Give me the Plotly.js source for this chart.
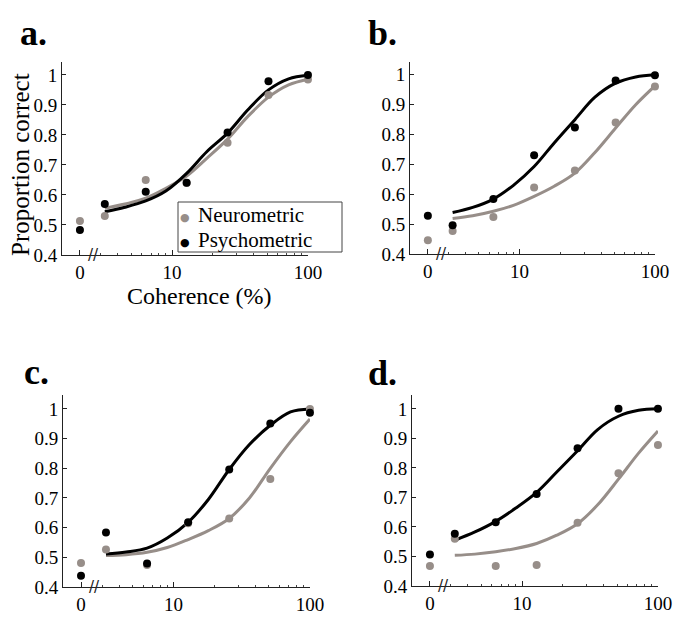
<!DOCTYPE html>
<html>
<head>
<meta charset="utf-8">
<script src="https://cdn.plot.ly/plotly-3.0.1.min.js"></script>
<style>
  html, body { margin: 0; padding: 0; background: #fff; }
  #chart { width: 686px; height: 619px; }
</style>
</head>
<body>
<div id="chart"></div>
<script>
// ---- data ----
const coherence = [0, 3.2, 6.4, 12.8, 25.6, 51.2, 99.9];
const panelLabels = ['a.', 'b.', 'c.', 'd.'];
const neuroA = [0.513, 0.530, 0.650, 0.640, 0.774, 0.933, 0.985];
const psychoA = [0.483, 0.570, 0.611, 0.641, 0.808, 0.979, 1.000];
const neuroB = [0.446, 0.477, 0.524, 0.623, 0.680, 0.840, 0.961];
const psychoB = [0.528, 0.496, 0.584, 0.731, 0.824, 0.981, 0.999];
const neuroC = [0.481, 0.526, 0.474, 0.615, 0.631, 0.764, 1.000];
const psychoC = [0.438, 0.584, 0.479, 0.618, 0.796, 0.951, 0.987];
const neuroD = [0.468, 0.560, 0.468, 0.471, 0.614, 0.782, 0.878];
const psychoD = [0.507, 0.577, 0.616, 0.712, 0.867, 1.000, 1.000];

// fitted curves
const fitCoherence = [3.2, 4.5, 6.4, 9, 12.8, 18, 25.6, 36, 51.2, 72, 99.9];
const neuroFitA = [0.556, 0.570, 0.589, 0.622, 0.663, 0.722, 0.786, 0.861, 0.926, 0.967, 0.986];
const psychoFitA = [0.544, 0.559, 0.580, 0.613, 0.672, 0.744, 0.806, 0.883, 0.950, 0.987, 0.999];
const neuroFitB = [0.519, 0.528, 0.543, 0.563, 0.593, 0.627, 0.671, 0.740, 0.822, 0.900, 0.963];
const psychoFitB = [0.539, 0.556, 0.584, 0.630, 0.693, 0.772, 0.850, 0.925, 0.972, 0.993, 1.000];
const neuroFitC = [0.506, 0.509, 0.517, 0.533, 0.560, 0.590, 0.631, 0.700, 0.800, 0.890, 0.966];
const psychoFitC = [0.511, 0.518, 0.531, 0.565, 0.618, 0.695, 0.796, 0.880, 0.945, 0.990, 1.000];
const neuroFitD = [0.504, 0.508, 0.516, 0.527, 0.544, 0.572, 0.611, 0.675, 0.762, 0.850, 0.925];
const psychoFitD = [0.555, 0.583, 0.619, 0.664, 0.717, 0.786, 0.858, 0.930, 0.975, 0.995, 1.000];

const xTickText = ['0', '10', '100'];
const yTickVals = [0.4, 0.5, 0.6, 0.7, 0.8, 0.9, 1];
const yTickText = ['0.4', '0.5', '0.6', '0.7', '0.8', '0.9', '1'];
const seriesNames = ['Neurometric', 'Psychometric'];
const xTitle = 'Coherence (%)';
const yTitle = 'Proportion correct';

// ---- styling / layout ----
const GRAY = '#978e89';
const BLACK = '#000000';
const SERIF = 'Liberation Serif';
const ZERO_POS = 2.1;      // where the 0% coherence point sits on the log axis
const BREAK_POS = 2.65;    // axis-break mark
const xPlot = coherence.map(c => (c === 0 ? ZERO_POS : c));

const W = 686, H = 619;
const px = v => v / W;
const py = v => 1 - v / H;
const panels = [
  { neuro: neuroA, psycho: psychoA, nFit: neuroFitA, pFit: psychoFitA, x: [62, 308], y: [62, 255], ytop: 1.043, label: [18, 33] },
  { neuro: neuroB, psycho: psychoB, nFit: neuroFitB, pFit: psychoFitB, x: [410, 655], y: [62, 254], ytop: 1.043, label: [366, 33] },
  { neuro: neuroC, psycho: psychoC, nFit: neuroFitC, pFit: psychoFitC, x: [63, 310], y: [395, 587], ytop: 1.047, label: [22, 372] },
  { neuro: neuroD, psycho: psychoD, nFit: neuroFitD, pFit: psychoFitD, x: [412, 658], y: [395, 586], ytop: 1.047, label: [366, 373] }
];

const traces = [];
const layout = {
  width: W, height: H,
  margin: { l: 0, r: 0, t: 0, b: 0 },
  paper_bgcolor: '#fff', plot_bgcolor: '#fff',
  showlegend: false,
  font: { family: SERIF, size: 19, color: '#000' },
  annotations: [], shapes: []
};

panels.forEach((p, i) => {
  const n = i + 1;
  const xa = 'x' + (n === 1 ? '' : n), ya = 'y' + (n === 1 ? '' : n);
  const xk = 'xaxis' + (n === 1 ? '' : n), yk = 'yaxis' + (n === 1 ? '' : n);
  traces.push({ x: fitCoherence, y: p.nFit, xaxis: xa, yaxis: ya, mode: 'lines', line: { color: GRAY, width: 3, shape: 'spline', smoothing: 1 }, hoverinfo: 'skip' });
  traces.push({ x: fitCoherence, y: p.pFit, xaxis: xa, yaxis: ya, mode: 'lines', line: { color: BLACK, width: 3, shape: 'spline', smoothing: 1 }, hoverinfo: 'skip' });
  traces.push({ x: xPlot, y: p.neuro, xaxis: xa, yaxis: ya, mode: 'markers', name: seriesNames[0], marker: { color: GRAY, size: 8 }, cliponaxis: false });
  traces.push({ x: xPlot, y: p.psycho, xaxis: xa, yaxis: ya, mode: 'markers', name: seriesNames[1], marker: { color: BLACK, size: 8 }, cliponaxis: false });

  layout[xk] = {
    type: 'log', domain: [px(p.x[0]), px(p.x[1])], range: [Math.log10(1.55), 2],
    anchor: ya, showgrid: false, zeroline: false, showline: true, linecolor: '#222', linewidth: 1,
    ticks: 'inside', ticklen: 5, tickcolor: '#222',
    tickmode: 'array', tickvals: [ZERO_POS, 10, 100], ticktext: xTickText,
    tickfont: { family: SERIF, size: 19, color: '#000' },
    minor: { tickmode: 'array', tickvals: [3, 4, 5, 6, 7, 8, 9, 20, 30, 40, 50, 60, 70, 80, 90], ticks: 'inside', ticklen: 2, tickcolor: '#444' },
    fixedrange: true
  };
  layout[yk] = {
    domain: [py(p.y[1]), py(p.y[0])], range: [0.4, p.ytop],
    anchor: xa, showgrid: false, zeroline: false, showline: true, linecolor: '#222', linewidth: 1,
    ticks: 'inside', ticklen: 4, tickcolor: '#222',
    tickmode: 'array', tickvals: yTickVals, ticktext: yTickText,
    tickfont: { family: SERIF, size: 19, color: '#000' },
    fixedrange: true
  };
  // axis break mark
  layout.annotations.push({ xref: xa, yref: ya, x: Math.log10(BREAK_POS), y: 0.4, text: '//', showarrow: false, font: { family: 'DejaVu Sans', size: 15, color: '#222' }, xanchor: 'center', yanchor: 'middle' });
  // panel label
  layout.annotations.push({ xref: 'paper', yref: 'paper', x: px(p.label[0]), y: py(p.label[1]), text: '<b>' + panelLabels[i] + '</b>', showarrow: false, xanchor: 'left', yanchor: 'middle', font: { family: SERIF, size: 36, color: '#000' } });
});

// axis titles (panel a)
layout.annotations.push({ xref: 'paper', yref: 'paper', x: px(199), y: py(296), text: xTitle, showarrow: false, xanchor: 'center', yanchor: 'middle', font: { family: SERIF, size: 24, color: '#000' } });
layout.annotations.push({ xref: 'paper', yref: 'paper', x: px(20), y: py(165), text: yTitle, textangle: -90, showarrow: false, xanchor: 'center', yanchor: 'middle', font: { family: SERIF, size: 25, color: '#000' } });

// legend box (panel a)
layout.shapes.push({ type: 'rect', xref: 'paper', yref: 'paper', x0: px(178), x1: px(342), y0: py(252), y1: py(202), line: { color: '#444', width: 1 }, fillcolor: '#fff', layer: 'above' });
const legendRows = [[seriesNames[0], GRAY, 215], [seriesNames[1], BLACK, 240]];
legendRows.forEach(r => {
  layout.annotations.push({ xref: 'paper', yref: 'paper', x: px(185), y: py(r[2] + 2), text: '●', showarrow: false, xanchor: 'center', yanchor: 'middle', font: { family: 'DejaVu Sans', size: 11, color: r[1] } });
  layout.annotations.push({ xref: 'paper', yref: 'paper', x: px(196), y: py(r[2]), text: r[0], showarrow: false, xanchor: 'left', yanchor: 'middle', font: { family: SERIF, size: 21, color: '#000' } });
});

Plotly.newPlot('chart', traces, layout, { displayModeBar: false, staticPlot: true });
</script>
</body>
</html>
